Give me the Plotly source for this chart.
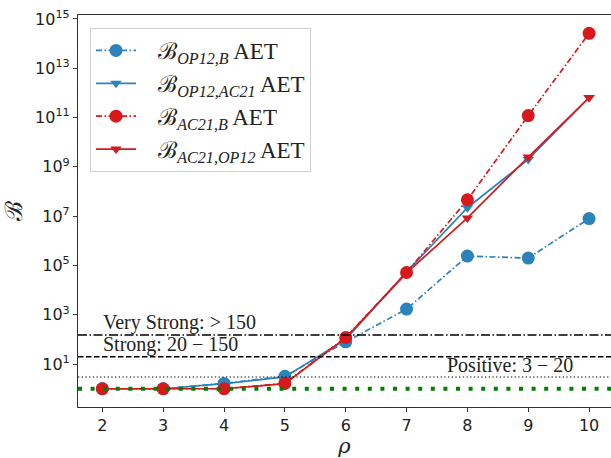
import math
import plotly.graph_objects as go

rho = [2, 3, 4, 5, 6, 7, 8, 9, 10]
b_op12_b = [1, 1, 1.65, 3.2, 80, 1.7e3, 2.4e5, 2.0e5, 8.0e6]
b_op12_ac21 = [1, 1, 1.6, 3.0, 100, 5.5e4, 2.2e7, 2.0e9, 6.5e11]
b_ac21_b = [1, 1, 1, 1.65, 120, 5.2e4, 4.6e7, 1.2e11, 2.6e14]
b_ac21_op12 = [1, 1, 1, 1.6, 115, 5.0e4, 8.5e6, 2.5e9, 6.5e11]

names = ["&nbsp;&nbsp;&nbsp;ℬ<sub><i>OP12,B</i></sub> AET", "&nbsp;&nbsp;&nbsp;ℬ<sub><i>OP12,AC21</i></sub> AET",
         "&nbsp;&nbsp;&nbsp;ℬ<sub><i>AC21,B</i></sub> AET", "&nbsp;&nbsp;&nbsp;ℬ<sub><i>AC21,OP12</i></sub> AET"]

thresholds = [150, 20, 3, 1]
threshold_labels = ["Very Strong: > 150", "Strong: 20 − 150", "Positive: 3 − 20"]

ytick_exp = [1, 3, 5, 7, 9, 11, 13, 15]
ytick_vals = [10 ** e for e in ytick_exp]
ytick_text = [f"10<sup>{e}</sup>" for e in ytick_exp]

BLUE = "#2b83ba"
RED = "#d7191c"
DASHDOT = "6px,2.5px,1.5px,2.5px"

fig = go.Figure()
series = [
    (b_op12_b, BLUE, DASHDOT, "circle", 13),
    (b_op12_ac21, BLUE, "solid", "triangle-down", 10),
    (b_ac21_b, RED, DASHDOT, "circle", 13),
    (b_ac21_op12, RED, "solid", "triangle-down", 10),
]
for (vals, col, dash, sym, sz), nm in zip(series, names):
    fig.add_trace(go.Scatter(
        x=rho, y=vals, name=nm, mode="lines+markers",
        line=dict(color=col, width=1.7, dash=dash),
        marker=dict(color=col, symbol=sym, size=sz, line=dict(width=0)),
    ))

line_styles = [
    dict(color="black", width=1.5, dash="9px,2.5px,1.5px,2.5px"),
    dict(color="black", width=1.5, dash="5.5px,2.5px"),
    dict(color="black", width=1.2, dash="1.3px,2.4px"),
    dict(color="green", width=4, dash="4px,8.6px"),
]
for val, ls in zip(thresholds, line_styles):
    fig.add_shape(type="line", xref="paper", x0=0, x1=1, yref="y", y0=val, y1=val,
                  line=ls, layer="above")

tfont = dict(family="Liberation Serif, DejaVu Serif, serif", size=20, color="#222")
label_pos = [(0.045, "left"), (0.045, "left"), (0.93, "right")]
for val, txt, (xp, anc) in zip(thresholds, threshold_labels, label_pos):
    fig.add_annotation(xref="paper", x=xp, yref="y", y=math.log10(val), text=txt,
                       showarrow=False, xanchor=anc, yanchor="bottom", yshift=0,
                       borderpad=0, font=tfont)

fig.update_layout(
    width=611, height=458,
    margin=dict(l=78, r=0, t=15, b=51, autoexpand=False),
    paper_bgcolor="white", plot_bgcolor="white",
    font=dict(family="DejaVu Sans, sans-serif", size=16, color="#222"),
    showlegend=True,
    legend=dict(
        x=0.0225, y=0.967, xanchor="left", yanchor="top",
        bgcolor="rgba(255,255,255,0.8)", bordercolor="#d0d0d0", borderwidth=1,
        font=dict(family="Liberation Serif, DejaVu Serif, serif", size=23, color="#222"),
        tracegroupgap=0, itemwidth=40,
    ),
    xaxis=dict(
        range=[1.6, 10.36], tickmode="array", tickvals=rho, ticktext=[str(r) for r in rho],
        showline=True, linecolor="#333", linewidth=1.2, mirror=True,
        ticks="outside", ticklen=4, tickcolor="#333", showgrid=False, zeroline=False,
        title=dict(text="<i>ρ</i>", font=dict(family="DejaVu Serif, serif", size=21), standoff=9),
    ),
    yaxis=dict(
        type="log", range=[-0.74, 15.16], tickmode="array", tickvals=ytick_vals, ticktext=ytick_text,
        showline=True, linecolor="#333", linewidth=1.2, mirror=False,
        ticks="outside", ticklen=4, tickcolor="#333", showgrid=False, zeroline=False,
        title=dict(text="ℬ", font=dict(family="DejaVu Serif, serif", size=24), standoff=8),
    ),
)

fig.write_html("out.html")
